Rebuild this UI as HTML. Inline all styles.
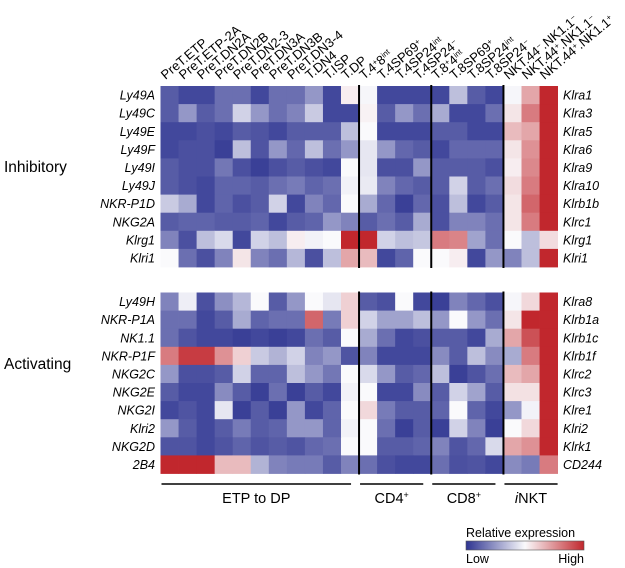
<!DOCTYPE html>
<html><head><meta charset="utf-8">
<style>
body{margin:0;background:#fff;}
svg{display:block;font-family:"Liberation Sans",Arial,sans-serif;}
</style></head>
<body>
<svg id="chart" width="625" height="568" viewBox="0 0 625 568" xmlns="http://www.w3.org/2000/svg">
<g id="cells"></g>
<g id="labels"></g>
</svg>
<script>
const columns = ["PreT.ETP","PreT.ETP-2A","PreT.DN2A","PreT.DN2B","PreT.DN2-3","PreT.DN3A","PreT.DN3B","PreT.DN3-4","T.DN4","T.ISP","T.DP",
"T.4+8int","T.4SP69+","T.4SP24int","T.4SP24-","T.8+4int","T.8SP69+","T.8SP24int","T.8SP24-","NKT.44-NK1.1-","NKT.44+NK1.1-","NKT.44+NK1.1+"];
const columnLabelsHtml = ["PreT.ETP","PreT.ETP-2A","PreT.DN2A","PreT.DN2B","PreT.DN2-3","PreT.DN3A","PreT.DN3B","PreT.DN3-4","T.DN4","T.ISP","T.DP",
"T.4<tspan baseline-shift='super' font-size='8'>+</tspan>8<tspan baseline-shift='super' font-size='8'>int</tspan>",
"T.4SP69<tspan baseline-shift='super' font-size='8'>+</tspan>",
"T.4SP24<tspan baseline-shift='super' font-size='8'>int</tspan>",
"T.4SP24<tspan baseline-shift='super' font-size='8'>−</tspan>",
"T.8<tspan baseline-shift='super' font-size='8'>+</tspan>4<tspan baseline-shift='super' font-size='8'>int</tspan>",
"T.8SP69<tspan baseline-shift='super' font-size='8'>+</tspan>",
"T.8SP24<tspan baseline-shift='super' font-size='8'>int</tspan>",
"T.8SP24<tspan baseline-shift='super' font-size='8'>−</tspan>",
"NKT.44<tspan baseline-shift='super' font-size='8'>−</tspan>.NK1.1<tspan baseline-shift='super' font-size='8'>−</tspan>",
"NKT.44<tspan baseline-shift='super' font-size='8'>+</tspan>.NK1.1<tspan baseline-shift='super' font-size='8'>−</tspan>",
"NKT.44<tspan baseline-shift='super' font-size='8'>+</tspan>.NK1.1<tspan baseline-shift='super' font-size='8'>+</tspan>"];
const inhibLeft = ["Ly49A","Ly49C","Ly49E","Ly49F","Ly49I","Ly49J","NKR-P1D","NKG2A","Klrg1","Klri1"];
const inhibRight = ["Klra1","Klra3","Klra5","Klra6","Klra9","Klra10","Klrb1b","Klrc1","Klrg1","Klri1"];
const actLeft = ["Ly49H","NKR-P1A","NK1.1","NKR-P1F","NKG2C","NKG2E","NKG2I","Klri2","NKG2D","2B4"];
const actRight = ["Klra8","Klrb1a","Klrb1c","Klrb1f","Klrc2","Klrc3","Klre1","Klri2","Klrk1","CD244"];
// values 0 (low, blue) .. 5 (white) .. 10 (high, red)
const inhibValues = [
[1,0.5,0.5,1.5,1.5,0.5,1.5,1.5,2.5,0.5,5.3,4.9,0.5,0.5,0.5,0.5,3.5,1,0.5,4.9,7,10],
[1,2.5,1,1.5,4,2.5,1.5,2,3.8,0.5,0.5,5.2,1,2.5,1.5,3,0.5,0.5,1.5,5.5,8,10],
[0.5,0.5,0.7,0.5,1,0.8,0.5,1,1,1,3.5,5,0.5,0.5,0.5,1,1,0.5,0.5,6.5,7,10],
[0.5,0.7,0.7,0.3,3.5,0.8,2.5,1.3,3.5,1.5,2.5,4.5,2.5,1.3,1,0.5,1.3,1.3,1.3,5.5,7.5,10],
[1,0.7,0.7,1.7,0.7,0.3,0.7,1,0.7,0.5,5,4.5,0.7,0.7,2.5,1,1,1,0.7,5.3,7.7,10],
[1,0.7,0.5,1.2,1.2,1,1.5,1.8,1.2,1.5,4.8,4.6,2,1.3,1,1,4,1,1.5,5.7,8,10],
[3.8,3,0.5,1.2,0.7,1,4,0.5,2,1.3,5,3,1.3,0.3,1.3,0.7,3.5,0.5,1,5.5,8.5,10],
[1,1.2,1.2,1,1,1.2,0.5,1,1.2,2.5,2,1,1.5,1,3,0.7,2,2,1.5,5.5,8,10],
[2,0.7,3.5,4.2,0.5,4,3.5,5.3,4.8,5,10,10,4,3.5,3.7,8,7.8,2.8,1.5,5,3.5,5.7],
[5,1.5,0.7,2,5.5,2,1.5,3.3,0.7,3.5,7,6.5,0.5,1.2,5,5,5.3,0.5,2.5,2,3.5,10]];
const actValues = [
[2,4.7,0.7,2.3,3.3,5,1,2.5,5,4.5,6,1,0.7,5,0.5,0.3,2,1.3,0.7,4.9,5.8,10],
[1.5,1.5,0.5,1,3,1.2,1.5,1.5,8.5,1.8,6,4,2.8,2.8,3.5,2.5,5,2.5,1.5,5.5,10,10],
[1.5,0.8,0.5,0.5,0.3,0.5,0.3,0.5,1.5,1,5,3,1.5,0.5,0.7,1,1,0.5,3,7,9,10],
[8,9.5,9.5,7.5,6,3.8,3.2,4,2,2.5,0.8,2,0.5,0.5,0.5,2.2,1,3.5,2.2,3,8,10],
[2.5,0.7,0.7,1,4,1.2,1.2,3.5,2.5,1.7,5,4.2,2.5,1,1.3,3.5,0.3,0.8,1.5,6.5,7,10],
[1,0.5,0.5,2.2,1,0.3,1.5,0.3,1,0.5,4.8,5,0.5,0.5,2.2,1,4,2.8,1,5.6,5.6,10],
[0.5,0.8,0.5,4.5,0.3,1,0.3,2.5,0.5,1.2,5,5.8,1.8,1,1,1.2,5,1.2,0.5,2.5,4.8,10],
[2.5,1,0.5,1,1.8,1,1.2,2.5,2.5,1.2,4.8,5,1.5,0.3,1,0.3,4,2,0.3,5,5.8,10],
[0.8,0.8,0.5,0.8,1.2,0.8,1,0.8,1.3,1.5,5,5,1,1,1.2,2,0.8,1.3,4.2,7,7.5,10],
[10,10,10,6.5,6.5,3.2,2,1.8,1.8,1,2,1.5,0.7,0.5,0.5,1.5,0.7,0.8,0.5,2.2,1.8,8]];
const groupNames = ["ETP to DP","CD4+","CD8+","iNKT"];
const groupStarts = [0,11,15,19];
const groupEnds = [11,15,19,22];

const NS="http://www.w3.org/2000/svg";
const X0=160.5, CW=18.05, CH=18.1, Y1=86, Y2=292.5;
const xPos = i => X0 + i*CW;
const yPos = (top,j) => top + j*CH;
const lo=[46,52,145], mid=[250,250,252], hi=[193,39,45];
function color(v){
  let a,b,t;
  if(v<=5){a=lo;b=mid;t=v/5;}else{a=mid;b=hi;t=(v-5)/5;}
  const c=a.map((x,k)=>Math.round(x+(b[k]-x)*t));
  return `rgb(${c[0]},${c[1]},${c[2]})`;
}
function mk(tag,attrs,parent){const e=document.createElementNS(NS,tag);for(const k in attrs)e.setAttribute(k,attrs[k]);parent.appendChild(e);return e;}
const cells=document.getElementById('cells');
const labels=document.getElementById('labels');
function drawPanel(vals,top,leftL,rightL,panel){
  vals.forEach((row,j)=>{
    row.forEach((v,i)=>{
      const r=mk('rect',{x:xPos(i),y:yPos(top,j),width:CW+0.4,height:CH+0.4,fill:color(v)},cells);
      
      
    });
    const t=mk('text',{x:155,y:yPos(top,j)+CH/2+4.5,'text-anchor':'end','font-size':12.5,'font-style':'italic'},labels);
    t.textContent=leftL[j];
    
    
    const t2=mk('text',{x:563,y:yPos(top,j)+CH/2+4.5,'font-size':12.5,'font-style':'italic'},labels);
    t2.textContent=rightL[j];
    
    
  });
  [11,15,19].forEach(c=>{
    const l=mk('line',{x1:xPos(c),x2:xPos(c),y1:top-1,y2:top+vals.length*CH+1,stroke:'#000','stroke-width':2},cells);
    
    
  });
}
drawPanel(inhibValues,Y1,inhibLeft,inhibRight,'inhibitory');
drawPanel(actValues,Y2,actLeft,actRight,'activating');

columnLabelsHtml.forEach((h,i)=>{
  const x=xPos(i)+5, y=80;
  const t=mk('text',{x:x,y:y,'font-size':13,transform:`rotate(-40 ${x} ${y})`},labels);
  t.innerHTML=h;
  
  
});
[['Inhibitory',167],['Activating',364]].forEach(([s,y])=>{
  const t=mk('text',{x:4,y:y+5,'font-size':15.5},labels);
  t.textContent=s;
  
  
});
const groupHtml=["ETP to DP","CD4<tspan baseline-shift='super' font-size='9'>+</tspan>","CD8<tspan baseline-shift='super' font-size='9'>+</tspan>","<tspan font-style='italic'>i</tspan>NKT"];
groupNames.forEach((g,k)=>{
  const a=xPos(groupStarts[k])+1, b=xPos(groupEnds[k])-(k==3?0:8);
  const l=mk('line',{x1:a,x2:b,y1:484,y2:484,stroke:'#000','stroke-width':1.5},labels);
  
  
  const t=mk('text',{x:(a+b)/2,y:503,'text-anchor':'middle','font-size':14.5},labels);
  t.innerHTML=groupHtml[k];
  
  
});
// legend
const defs=mk('defs',{},document.getElementById('chart'));
const grad=mk('linearGradient',{id:'lg',x1:0,x2:1,y1:0,y2:0},defs);
mk('stop',{offset:'0',  'stop-color':color(0)},grad);
mk('stop',{offset:'0.5','stop-color':color(5)},grad);
mk('stop',{offset:'1',  'stop-color':color(10)},grad);
const lg=mk('g',{},labels);


const lt=mk('text',{x:466,y:537,'font-size':12.5},lg);lt.textContent='Relative expression';


const lb=mk('rect',{x:466,y:541,width:118,height:9,fill:'url(#lg)',stroke:'#555','stroke-width':0.6},lg);


const l1=mk('text',{x:466,y:563,'font-size':12.5},lg);l1.textContent='Low';


const l2=mk('text',{x:584,y:563,'font-size':12.5,'text-anchor':'end'},lg);l2.textContent='High';


</script>
</body></html>
